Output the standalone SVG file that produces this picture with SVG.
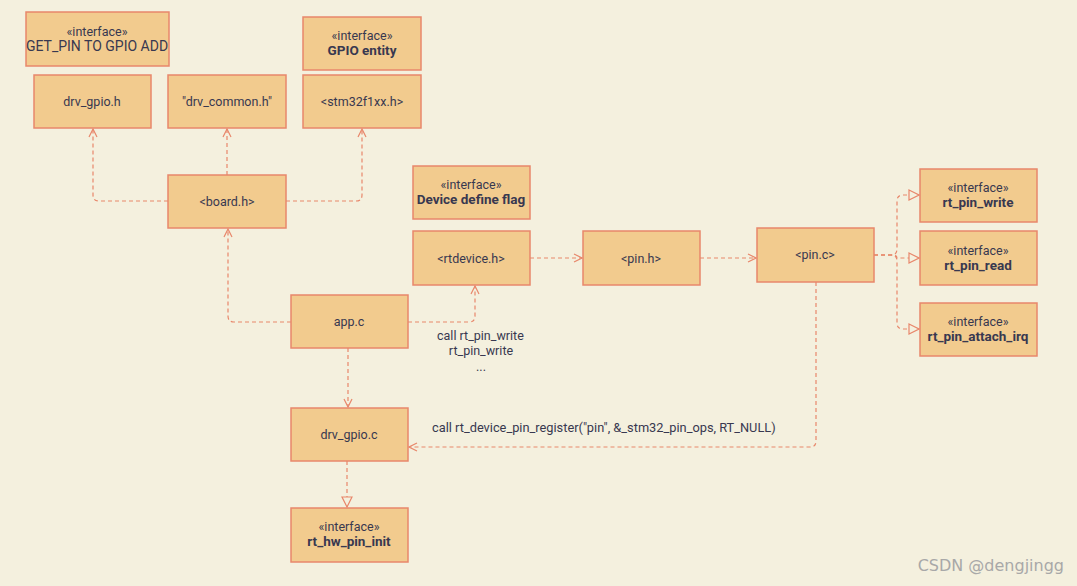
<svg xmlns="http://www.w3.org/2000/svg" width="1077" height="586" viewBox="0 0 1077 586">
<style>
.n{fill:#F2CB8E;stroke:#E8876B;stroke-width:1.5}
.t{font-family:Roboto,"Liberation Sans",sans-serif;font-size:12.5px;fill:#383850;text-anchor:middle}
.b{font-weight:bold;font-size:13.5px}
.e{fill:none;stroke:#E8876B;stroke-width:1.2;stroke-dasharray:4 3}
.l{font-family:Roboto,"Liberation Sans",sans-serif;font-size:12.5px;fill:#383850}
</style>
<defs>
<marker id="v" viewBox="0 0 10 10" refX="9" refY="5" markerWidth="10" markerHeight="10" markerUnits="userSpaceOnUse" orient="auto">
<path d="M1,1 L9,5 L1,9" fill="none" stroke="#E8876B" stroke-width="1.2"/>
</marker>
<marker id="tri" viewBox="0 0 12 12" refX="11" refY="6" markerWidth="12" markerHeight="12" markerUnits="userSpaceOnUse" orient="auto">
<path d="M1,1 L11,6 L1,11 Z" fill="#F4F0DE" stroke="#E8876B" stroke-width="1.2"/>
</marker>
</defs>
<rect width="1077" height="586" fill="#F4F0DE"/>
<g id="connectors">
<path class="e" marker-end="url(#v)" d="M168,201 H99 Q93,201 93,195 V129"/>
<path class="e" marker-end="url(#v)" d="M227,175 V129"/>
<path class="e" marker-end="url(#v)" d="M286,201 H356 Q362,201 362,195 V129"/>
<path class="e" marker-end="url(#v)" d="M291,322 H234 Q228,322 228,316 V229"/>
<path class="e" marker-end="url(#v)" d="M408,322 H469 Q475,322 475,316 V286"/>
<path class="e" marker-end="url(#v)" d="M348,348 V407"/>
<path class="e" marker-end="url(#v)" d="M530,258 H582"/>
<path class="e" marker-end="url(#v)" d="M700,258 H756"/>
<path class="e" marker-end="url(#tri)" d="M874,255 H891 Q897,255 897,249 V201 Q897,195 903,195 H919"/>
<path class="e" marker-end="url(#tri)" d="M874,255 H893 Q897,255 897,258 H919"/>
<path class="e" marker-end="url(#tri)" d="M874,255 H891 Q897,255 897,261 V323 Q897,329 903,329 H919"/>
<path class="e" marker-end="url(#v)" d="M816,282 V441 Q816,447 810,447 H409"/>
<path class="e" marker-end="url(#tri)" d="M347,461 V507"/>
<text class="l" x="437" y="340">call rt_pin_write</text>
<text class="t" x="481" y="355">rt_pin_write</text>
<text class="t" x="481" y="371">...</text>
<text class="l" x="432" y="432" style="font-size:12.8px">call rt_device_pin_register("pin", &amp;_stm32_pin_ops, RT_NULL)</text>
</g>
<g id="get_pin"><rect class="n" x="26" y="12" width="143" height="54"/><text class="t" x="97" y="36">«interface»</text><text class="t" x="97" y="51" style="font-size:14px">GET_PIN TO GPIO ADD</text></g>
<g id="drv_gpio_h"><rect class="n" x="34" y="75" width="117" height="53"/><text class="t" x="92" y="106">drv_gpio.h</text></g>
<g id="drv_common_h"><rect class="n" x="168" y="75" width="118" height="53"/><text class="t" x="227" y="106">"drv_common.h"</text></g>
<g id="gpio_entity"><rect class="n" x="303" y="17" width="118" height="53"/><text class="t" x="362" y="40">«interface»</text><text class="t b" x="362" y="55">GPIO entity</text></g>
<g id="stm32"><rect class="n" x="303" y="75" width="118" height="53"/><text class="t" x="362" y="106">&lt;stm32f1xx.h&gt;</text></g>
<g id="board_h"><rect class="n" x="168" y="175" width="118" height="53"/><text class="t" x="227" y="206">&lt;board.h&gt;</text></g>
<g id="device_flag"><rect class="n" x="413" y="166" width="117" height="53"/><text class="t" x="471" y="189">«interface»</text><text class="t b" x="471" y="204">Device define flag</text></g>
<g id="rtdevice_h"><rect class="n" x="413" y="231" width="117" height="54"/><text class="t" x="471" y="263">&lt;rtdevice.h&gt;</text></g>
<g id="app_c"><rect class="n" x="291" y="295" width="117" height="53"/><text class="t" x="349" y="326">app.c</text></g>
<g id="pin_h"><rect class="n" x="583" y="231" width="117" height="54"/><text class="t" x="641" y="263">&lt;pin.h&gt;</text></g>
<g id="pin_c"><rect class="n" x="757" y="228" width="117" height="54"/><text class="t" x="815" y="259">&lt;pin.c&gt;</text></g>
<g id="rt_pin_write"><rect class="n" x="920" y="169" width="117" height="53"/><text class="t" x="978" y="192">«interface»</text><text class="t b" x="978" y="207">rt_pin_write</text></g>
<g id="rt_pin_read"><rect class="n" x="920" y="231" width="117" height="54"/><text class="t" x="978" y="255">«interface»</text><text class="t b" x="978" y="270">rt_pin_read</text></g>
<g id="rt_pin_attach_irq"><rect class="n" x="920" y="303" width="117" height="53"/><text class="t" x="978" y="326">«interface»</text><text class="t b" x="978" y="341">rt_pin_attach_irq</text></g>
<g id="drv_gpio_c"><rect class="n" x="291" y="408" width="117" height="53"/><text class="t" x="349" y="439">drv_gpio.c</text></g>
<g id="rt_hw_pin_init"><rect class="n" x="291" y="508" width="117" height="54"/><text class="t" x="349" y="531">«interface»</text><text class="t b" x="349" y="546">rt_hw_pin_init</text></g>
<text x="1064" y="571" font-family="'DejaVu Sans',sans-serif" font-size="16" fill="#a8a8a8" text-anchor="end">CSDN @dengjingg</text>
</svg>
